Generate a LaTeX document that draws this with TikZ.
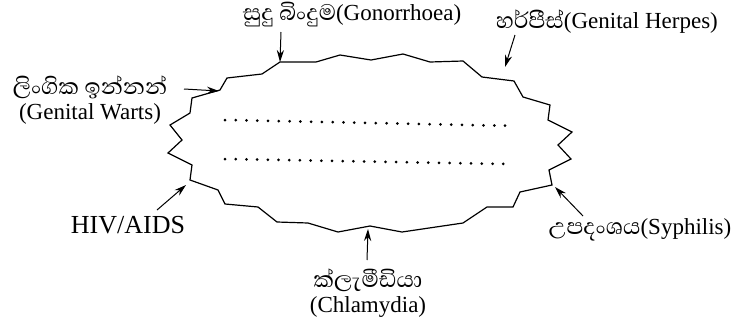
\documentclass[tikz,border=0pt]{standalone}
\usepackage{fontspec}
\setmainfont{Liberation Serif}
\newfontfamily\sinhala[Script=Sinhala, Scale=1.25]{Abhaya Libre}
\usetikzlibrary{arrows.meta, positioning}

\begin{document}
\begin{tikzpicture}[
    x=0.5pt, y=-0.5pt,
    >={Stealth[length=6pt, width=3.6pt]},
    lbl/.style={font=\fontsize{11.5}{12.5}\selectfont, inner sep=0pt, align=center},
    ptr/.style={->, line width=0.5pt},
    blob/.style={line width=0.6pt, line join=miter},
    font=\small
]
\useasboundingbox (0,0) rectangle (734,327);

% The jagged outline
\draw[blob] (220,90) -- (227,78) -- (262,74) -- (280,62) -- (316,62) -- (340,55)
    -- (371,60) -- (403,54) -- (430,62) -- (463,61) -- (482,77) -- (514,81)
    -- (523,97) -- (550,105) -- (548,120) -- (572,132) -- (558,145) -- (571,159)
    -- (549,170) -- (552,185) -- (520,192) -- (513,207) -- (487,207) -- (463,223)
    -- (402,232) -- (370,226) -- (338,232) -- (308,223) -- (277,222) -- (258,207)
    -- (225,204) -- (218,190) -- (190,180) -- (192,165) -- (168,153) -- (182,140)
    -- (170,125) -- (190,113) -- (192,98) -- cycle;

% Dotted lines inside
\foreach \i in {0,...,26} {
    \fill (225+10.77*\i, 120+0.22*\i) circle (0.75pt);
    \fill (225+10.7*\i, 159+0.19*\i) circle (0.75pt);
}

% Labels
\node[lbl] (Warts) at (90,100) {{\sinhala ලිංගික ඉන්නන්}\\(Genital Warts)};
\node[lbl] (Gono) at (352,15) {{\sinhala සුදු බිංදුම}(Gonorrhoea)};
\node[lbl] (Herpes) at (607,22) {{\sinhala හර්පීස්}(Genital Herpes)};
\node[lbl, font=\fontsize{13}{14}\selectfont] (HIV) at (128,225) {HIV/AIDS};
\node[lbl] (Syph) at (640,230) {{\sinhala උපදංශය}(Syphilis)};
\node[lbl] (Chlam) at (368,293) {{\sinhala ක්ලැමීඩියා}\\(Chlamydia)};

% Arrow ends
\coordinate (wT) at (184,89);   \coordinate (wH) at (219,91);
\coordinate (gT) at (281,32);   \coordinate (gH) at (280,62);
\coordinate (hT) at (515,35);   \coordinate (hH) at (505,67);
\coordinate (vT) at (157,210);  \coordinate (vH) at (186,185);
\coordinate (sT) at (583,216);  \coordinate (sH) at (555,187);
\coordinate (cT) at (367,260);  \coordinate (cH) at (368,229);

\draw[ptr] (wT) -- (wH);
\draw[ptr] (gT) -- (gH);
\draw[ptr] (hT) -- (hH);
\draw[ptr] (vT) -- (vH);
\draw[ptr] (sT) -- (sH);
\draw[ptr] (cT) -- (cH);

\end{tikzpicture}
\end{document}
